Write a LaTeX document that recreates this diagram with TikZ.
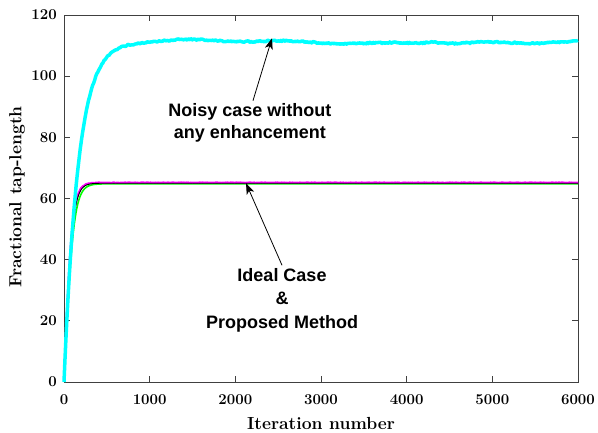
\documentclass[tikz,border=0pt]{standalone}
\usepackage{fontspec}
\usepackage{tikz}
\usetikzlibrary{arrows.meta}
\newfontfamily\annotfont{Liberation Sans}
\newcommand{\tickfont}{\fontsize{15}{18}\selectfont\bfseries}
\newcommand{\labelfont}{\fontsize{17.5}{21}\selectfont\bfseries}
\definecolor{mcyan}{rgb}{0,1,1}
\definecolor{mmagenta}{rgb}{1,0,1}
\definecolor{mgreen}{rgb}{0,1,0}

\begin{document}
\begin{tikzpicture}[x=1pt, y=1pt,
    declare function={sat(\t,\a,\s)=\a*(1-exp(-2*min(\t,800)/\s))/(1+exp(-2*min(\t,800)/\s));}]
  \tikzset{
    axisline/.style={draw=black!75, line width=0.8pt},
    tickmark/.style={black!75, line width=0.8pt},
    ticklabel/.style={font=\tickfont, inner sep=0pt},
    axislabel/.style={font=\labelfont, inner sep=0pt},
    annot/.style={font=\annotfont\bfseries\fontsize{18}{22}\selectfont, align=center, inner sep=3pt},
    annarrow/.style={-{Stealth[length=11pt, width=8pt, inset=3pt]}, line width=0.8pt},
    noisycurve/.style={draw=mcyan, line width=3.5pt, line join=round},
    idealcurve/.style={line join=round}
  }
  \pgfmathsetseed{7}
  \useasboundingbox (0,0) rectangle (598,432);
  \begin{scope}[shift={(64pt,50pt)}, x=0.085667pt, y=3.0583pt]
    % axes box and ticks
    \draw[axisline] (0,0) rectangle (6000,120);
    \foreach \t in {0,1000,...,6000} {
      \draw[tickmark] (\t,0) -- ++(0,6pt) (\t,120) -- ++(0,-6pt);
      \node[ticklabel] (xt\t) at (\t,0) [yshift=-18pt] {\t};
    }
    \foreach \v in {0,20,...,120} {
      \draw[tickmark] (0,\v) -- ++(6pt,0) (6000,\v) -- ++(-6pt,0);
      \node[ticklabel, anchor=east] (yt\v) at (0,\v) [xshift=-7pt] {\v};
    }
    % curves
    \draw[idealcurve, draw=mgreen, line width=1.6pt]
      plot[domain=0:6000, samples=601] (\x, {sat(\x,64.8,110)});
    \draw[idealcurve, draw=mmagenta, line width=2pt]
      plot[domain=0:6000, samples=601] (\x, {sat(\x,65.2,94)+0.08*rand});
    \draw[idealcurve, draw=black, line width=0.9pt]
      plot[domain=0:6000, samples=601] (\x, {sat(\x,65.0,98)});
    \draw[noisycurve] (0,0) -- plot[domain=10:6000, samples=500]
      (\x, {(111.3 + 0.5*cos((\x-1500)*0.07) - 0.35*\x/6000 + 0.3*sin(\x*0.31)
        + 0.8/(1+((\x-4300)/150)^2) + 0.25*rand)*(1-exp(-min(\x,2000)/165))});
    % annotations
    \coordinate (noisytip) at (2428,112.4);
    \coordinate (idealtip) at (2125,65);
    \node[annot] (noisy) at (2171,84.6) {Noisy case without\\any enhancement};
    \node[annot, font=\annotfont\bfseries\fontsize{18}{23.5}\selectfont] (ideal) at (2545,26.7)
      {Ideal Case\\\&\\Proposed Method};
    \draw[annarrow] ([xshift=3pt]noisy.north) -- (noisytip);
    \draw[annarrow] (ideal.north) -- (idealtip);
  \end{scope}
  % axis labels
  \node[axislabel] (xlabel) at (321,9) {Iteration number};
  \node[axislabel, rotate=90] (ylabel) at (17,235) {Fractional tap-length};
\end{tikzpicture}
\end{document}
